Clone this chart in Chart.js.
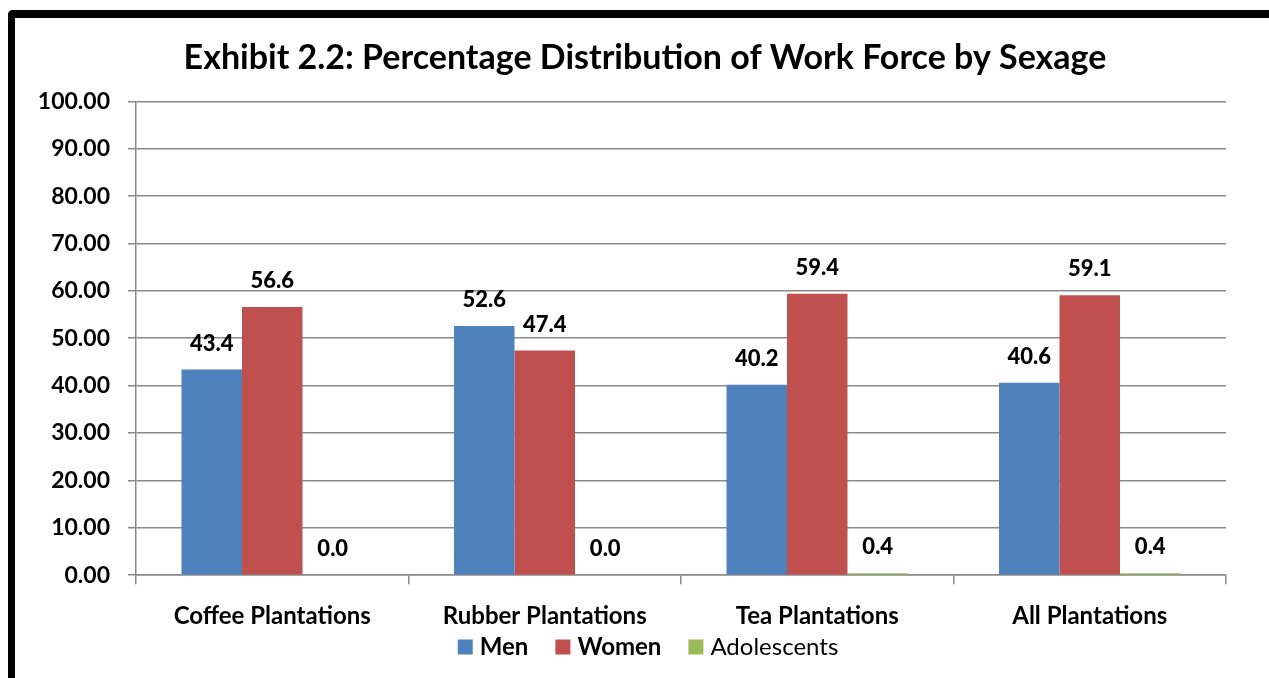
<!DOCTYPE html>
<html>
<head>
<meta charset="utf-8">
<script src="https://cdn.jsdelivr.net/npm/chart.js@4"></script>
<style>
  html, body { margin: 0; padding: 0; background: #fff; overflow: hidden; }
  #wrap { position: relative; width: 1269px; height: 678px; }
  #frame {
    position: absolute; left: 8px; top: 10px; width: 1300px; height: 700px;
    border-left: 7px solid #000; border-top: 8px solid #000; border-top-left-radius: 5px;
    box-sizing: border-box;
  }
  #chart { position: absolute; left: 0; top: 0; }
</style>
</head>
<body>
<div id="wrap">
  <div id="frame"></div>
  <canvas id="chart" width="1269" height="678"></canvas>
</div>
<script>
const categories = ['Coffee Plantations', 'Rubber Plantations', 'Tea Plantations', 'All Plantations'];
const men = [43.4, 52.6, 40.2, 40.6];
const women = [56.6, 47.4, 59.4, 59.1];
const adolescents = [0.0, 0.0, 0.4, 0.4];
const yTicks = [0, 10, 20, 30, 40, 50, 60, 70, 80, 90, 100];

const FONT = 'Lato, "Open Sans", sans-serif';
const GRID = '#8a8a8a';

// value labels above each bar
const barValues = {
  id: 'barValues',
  afterDatasetsDraw(chart) {
    const ctx = chart.ctx;
    ctx.save();
    ctx.font = '900 22px ' + FONT;
    ctx.fillStyle = '#000';
    ctx.textAlign = 'center';
    ctx.textBaseline = 'middle';
    chart.data.datasets.forEach((ds, i) => {
      chart.getDatasetMeta(i).data.forEach((bar, j) => {
        ctx.fillText(ds.data[j].toFixed(1), bar.x, bar.y - 26);
      });
    });
    ctx.restore();
  }
};

// centre the title over the span from the tick labels to the plot's right edge
const titleSpan = {
  id: 'titleSpan',
  afterLayout(chart) {
    const tb = chart.titleBlock;
    if (tb) {
      tb.left = 64;
      tb.right = chart.chartArea.right;
      tb.width = tb.right - tb.left;
    }
  }
};

// legend row under the category labels; the first two entries are bold
const bottomLegend = {
  id: 'bottomLegend',
  afterDraw(chart) {
    const ctx = chart.ctx;
    const centerX = 648, y = 647, box = 15, textGap = 7, itemGap = 27;
    const items = chart.data.datasets.map((ds, i) => ({
      label: ds.label, color: ds.backgroundColor,
      font: (i < 2 ? 'bold ' : '') + '24px ' + FONT
    }));
    ctx.save();
    let total = 0;
    items.forEach((it, i) => {
      ctx.font = it.font;
      it.w = ctx.measureText(it.label).width;
      total += box + textGap + it.w + (i < items.length - 1 ? itemGap : 0);
    });
    let x = centerX - total / 2;
    ctx.textBaseline = 'middle';
    ctx.textAlign = 'left';
    items.forEach(it => {
      ctx.fillStyle = it.color;
      ctx.fillRect(x, y - box / 2, box, box);
      x += box + textGap;
      ctx.font = it.font;
      ctx.fillStyle = '#000';
      ctx.fillText(it.label, x, y);
      x += it.w + itemGap;
    });
    ctx.restore();
  }
};

new Chart(document.getElementById('chart'), {
  type: 'bar',
  data: {
    labels: categories,
    datasets: [
      { label: 'Men', data: men, backgroundColor: '#4F81BD' },
      { label: 'Women', data: women, backgroundColor: '#C0504D' },
      { label: 'Adolescents', data: adolescents, backgroundColor: '#9BBB59' }
    ]
  },
  options: {
    responsive: false,
    animation: false,
    devicePixelRatio: 1,
    layout: { padding: { left: 0, right: 43, top: 0, bottom: 29 } },
    datasets: { bar: { categoryPercentage: 0.666, barPercentage: 1.0 } },
    plugins: {
      legend: { display: false },
      tooltip: { enabled: false },
      title: {
        display: true,
        text: 'Exhibit 2.2: Percentage Distribution of Work Force by Sexage',
        color: '#000',
        font: { family: FONT, size: 34, weight: 'bold', lineHeight: 1.2 },
        padding: { top: 37.5, bottom: 23 }
      }
    },
    scales: {
      x: {
        grid: { display: true, drawOnChartArea: false, drawTicks: true, tickLength: 9, color: GRID, lineWidth: 1.5, offset: true },
        border: { display: true, color: GRID, width: 1.5 },
        ticks: { color: '#000', font: { family: FONT, size: 24, weight: 'bold' }, padding: 18 }
      },
      y: {
        min: 0, max: 100,
        afterFit(scale) { scale.width = 136; },
        afterBuildTicks(scale) { scale.ticks = yTicks.map(v => ({ value: v })); },
        grid: { color: GRID, lineWidth: 1.5, drawTicks: true, tickLength: 8 },
        border: { display: true, color: GRID, width: 1.5 },
        ticks: {
          color: '#000', padding: 18,
          font: { family: FONT, size: 23, weight: 'bold' },
          callback: v => Number(v).toFixed(2)
        }
      }
    }
  },
  plugins: [titleSpan, barValues, bottomLegend]
});
</script>
</body>
</html>
